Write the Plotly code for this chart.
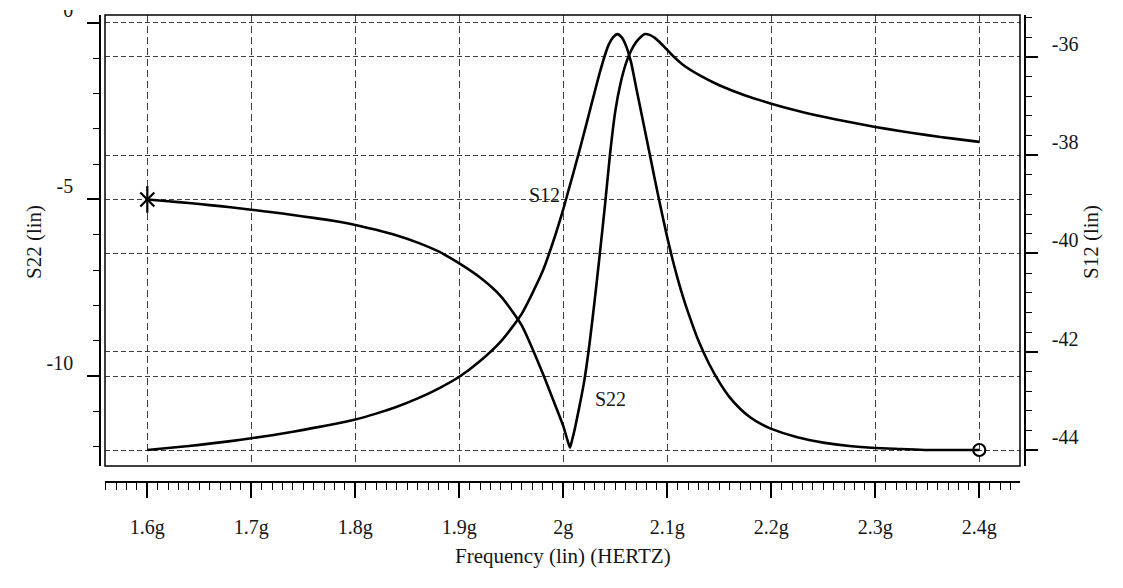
import plotly.graph_objects as go

# ---- data -------------------------------------------------------------
# S22 (left axis, linear) vs frequency in GHz
freq_s22 = [1.60, 1.62, 1.64, 1.66, 1.68, 1.70, 1.72, 1.74, 1.76, 1.78,
            1.80, 1.82, 1.84, 1.86, 1.88, 1.90, 1.92, 1.94, 1.96, 1.98,
            1.99, 2.00, 2.0035, 2.0064, 2.0085, 2.011, 2.015, 2.020, 2.025,
            2.030, 2.035, 2.040, 2.045, 2.050, 2.055, 2.060, 2.065, 2.070,
            2.075, 2.0786, 2.083, 2.088, 2.093, 2.098, 2.1058, 2.115, 2.1317,
            2.15, 2.175, 2.20, 2.225, 2.25, 2.275, 2.30, 2.325, 2.35, 2.375,
            2.40]
s22 = [-5.00, -5.05, -5.10, -5.16, -5.22, -5.29, -5.36, -5.44, -5.52, -5.61,
       -5.72, -5.86, -6.02, -6.22, -6.47, -6.81, -7.21, -7.74, -8.56, -9.90,
       -10.65, -11.41, -11.76, -12.02, -11.80, -11.50, -10.93, -10.16, -9.13,
       -7.90, -6.57, -5.18, -3.70, -2.50, -1.72, -1.17, -0.80, -0.55,
       -0.39, -0.32, -0.345, -0.43, -0.56, -0.71, -0.95, -1.19, -1.50,
       -1.77, -2.06, -2.29, -2.49, -2.66, -2.81, -2.95, -3.07, -3.18, -3.28,
       -3.37]

# S12 (right axis, linear) vs frequency in GHz
freq_s12 = [1.60, 1.62, 1.64, 1.66, 1.68, 1.70, 1.72, 1.74, 1.76, 1.78,
            1.80, 1.82, 1.84, 1.86, 1.88, 1.90, 1.92, 1.94, 1.96, 1.98,
            1.99, 2.000, 2.005, 2.010, 2.015, 2.020, 2.025, 2.030, 2.035,
            2.040, 2.044, 2.048, 2.052, 2.056, 2.060, 2.065, 2.070, 2.075,
            2.080, 2.085, 2.090, 2.095, 2.100, 2.105, 2.110, 2.115, 2.120,
            2.130, 2.140, 2.150, 2.160, 2.170, 2.180, 2.190, 2.200, 2.225,
            2.250, 2.275, 2.300, 2.325, 2.350, 2.375, 2.400]
s12 = [-44.00, -43.96, -43.92, -43.87, -43.82, -43.76, -43.70, -43.63, -43.55,
       -43.47, -43.38, -43.26, -43.12, -42.95, -42.75, -42.51, -42.19, -41.79,
       -41.23, -40.37, -39.78, -39.10, -38.72, -38.34, -37.95, -37.55, -37.14,
       -36.73, -36.33, -35.97, -35.74, -35.60, -35.54, -35.60, -35.76, -36.10,
       -36.62, -37.14, -37.66, -38.18, -38.70, -39.20, -39.68, -40.12, -40.52,
       -40.88, -41.20, -41.78, -42.24, -42.62, -42.93, -43.16, -43.34, -43.47,
       -43.57, -43.74, -43.85, -43.92, -43.96, -43.98, -44.00, -44.00, -44.00]

# ---- tick labels -------------------------------------------------------
x_tickvals = [1.6, 1.7, 1.8, 1.9, 2.0, 2.1, 2.2, 2.3, 2.4]
x_ticktext = ["1.6g", "1.7g", "1.8g", "1.9g", "2g", "2.1g", "2.2g", "2.3g", "2.4g"]
y_tickvals = [0, -5, -10]
y_ticktext = ["0", "-5", "-10"]
y2_tickvals = [-36, -38, -40, -42, -44]
y2_ticktext = ["-36", "-38", "-40", "-42", "-44"]

FONT = "Liberation Serif"
INK = "#151515"
GRID = "#404040"

W, H = 1123, 588
ML, MR, MT, MB = 100, 98, 15, 106
PW, PH = W - ML - MR, H - MT - MB
x_dom = [5 / PW, (PW - 5) / PW]
y_dom = [16 / PH, 1.0]


def px_x(p):
    return (p - ML) / PW


def px_y(p):
    return (H - MB - p) / PH


fig = go.Figure()

curve_line = dict(color="black", width=2.6, shape="spline", smoothing=0.6)
fig.add_trace(go.Scatter(
    x=freq_s22, y=s22, mode="lines", name="S22", line=curve_line,
    yaxis="y", hoverinfo="skip", showlegend=False))
fig.add_trace(go.Scatter(
    x=freq_s12, y=s12, mode="lines", name="S12", line=curve_line,
    yaxis="y2", hoverinfo="skip", showlegend=False))

# trace markers: star at the start of S22, circle at the end of S12
fig.add_trace(go.Scatter(
    x=[freq_s22[0]], y=[s22[0]], mode="markers", yaxis="y",
    marker=dict(symbol="x-thin-open", size=14, color="black",
                line=dict(color="black", width=2.2)),
    hoverinfo="skip", showlegend=False))
fig.add_trace(go.Scatter(
    x=[freq_s22[0]], y=[s22[0]], mode="markers", yaxis="y",
    marker=dict(symbol="line-ns-open", size=19, color="black",
                line=dict(color="black", width=2.2)),
    hoverinfo="skip", showlegend=False))
fig.add_trace(go.Scatter(
    x=[freq_s12[-1]], y=[s12[-1]], mode="markers", yaxis="y2",
    marker=dict(symbol="circle-open", size=12, color="black",
                line=dict(color="black", width=2.2)),
    hoverinfo="skip", showlegend=False))

tick_font = dict(family=FONT, size=20, color=INK)

fig.update_layout(
    width=W, height=H,
    margin=dict(l=ML, r=MR, t=MT, b=MB, pad=0, autoexpand=False),
    paper_bgcolor="white", plot_bgcolor="white",
    showlegend=False,
    xaxis=dict(
        domain=x_dom, anchor="free", position=0, automargin=False,
        range=[1.55933, 2.43913],
        tickmode="array", tickvals=x_tickvals, ticktext=x_ticktext,
        ticks="outside", ticklen=15, tickwidth=1.5, tickcolor="black",
        ticklabelstandoff=12, tickfont=tick_font,
        minor=dict(tickmode="linear", tick0=1.6, dtick=0.01, ticks="outside",
                   ticklen=7, tickwidth=1, tickcolor="black", showgrid=False),
        showline=True, linecolor="black", linewidth=1.5,
        showgrid=True, gridcolor=GRID, gridwidth=1, griddash="7px,4px",
        zeroline=False,
    ),
    yaxis=dict(
        domain=y_dom, anchor="free", position=0, automargin=False,
        range=[-12.540, 0.218],
        tickmode="array", tickvals=y_tickvals,
        ticktext=[t + "<br> " for t in y_ticktext],
        ticks="outside", ticklen=12, tickwidth=1.5, tickcolor="black",
        ticklabelstandoff=10, tickfont=tick_font, ticklabeloverflow="allow",
        minor=dict(tickmode="linear", tick0=0, dtick=1, ticks="outside",
                   ticklen=6, tickwidth=1, tickcolor="black", showgrid=False),
        showline=True, linecolor="black", linewidth=1.5,
        showgrid=True, gridcolor=GRID, gridwidth=1, griddash="5px,3px",
        zeroline=False,
    ),
    yaxis2=dict(
        domain=y_dom, overlaying="y", side="right", anchor="free", position=1,
        automargin=False,
        range=[-44.3255, -35.1518],
        tickmode="array", tickvals=y2_tickvals,
        ticktext=[t + "<br> " for t in y2_ticktext],
        ticks="outside", ticklen=12, tickwidth=1.5, tickcolor="black",
        ticklabelstandoff=10, tickfont=tick_font,
        minor=dict(tickmode="linear", tick0=-36, dtick=0.4, ticks="outside",
                   ticklen=6, tickwidth=1, tickcolor="black", showgrid=False),
        showline=True, linecolor="black", linewidth=1.5,
        showgrid=True, gridcolor=GRID, gridwidth=1, griddash="5px,3px",
        zeroline=False,
    ),
    shapes=[
        # plot frame
        dict(type="rect", xref="paper", yref="paper",
             x0=x_dom[0], x1=x_dom[1], y0=y_dom[0], y1=y_dom[1],
             line=dict(color="black", width=1.5), fillcolor="rgba(0,0,0,0)",
             layer="above"),
        # top strip of the canvas clips the uppermost left label
        dict(type="rect", xref="paper", yref="paper",
             x0=px_x(30), x1=px_x(96), y0=px_y(10), y1=px_y(-2),
             line=dict(width=0), fillcolor="white", layer="above"),
    ],
    annotations=[
        dict(text="S22 (lin)", textangle=-90, xref="paper", yref="paper",
             x=px_x(20), y=px_y(242), showarrow=False,
             font=dict(family=FONT, size=21, color=INK)),
        dict(text="S12 (lin)", textangle=-90, xref="paper", yref="paper",
             x=px_x(1105), y=px_y(242), showarrow=False,
             font=dict(family=FONT, size=21, color=INK)),
        dict(text="Frequency (lin) (HERTZ)", xref="paper", yref="paper",
             x=px_x(562.5), y=px_y(570), showarrow=False,
             font=dict(family=FONT, size=21, color=INK)),
        dict(text="S12", xref="x", yref="y2", x=1.99875, y=-38.81,
             xanchor="right", yanchor="middle", showarrow=False,
             font=dict(family=FONT, size=20, color=INK)),
        dict(text="S22", xref="x", yref="y", x=2.0286, y=-10.65,
             xanchor="left", yanchor="middle", showarrow=False,
             font=dict(family=FONT, size=20, color=INK)),
    ],
)

fig.write_html("out.html")
